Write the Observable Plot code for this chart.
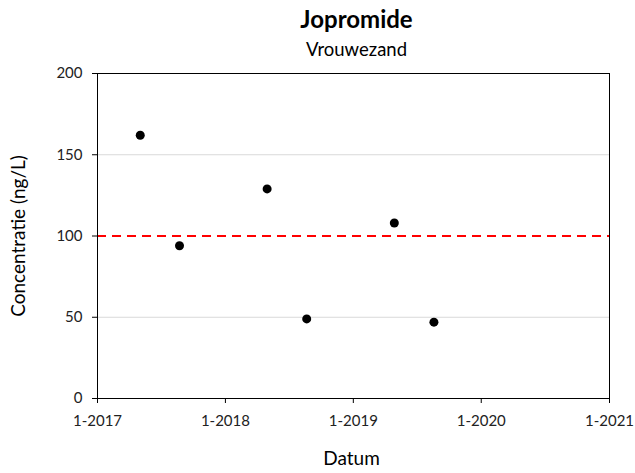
<!DOCTYPE html>
<html>
<head>
<meta charset="utf-8">
<script src="https://cdn.jsdelivr.net/npm/d3@7"></script>
<script src="https://cdn.jsdelivr.net/npm/@observablehq/plot@0.6"></script>
<style>
  html, body { margin: 0; padding: 0; background: #fff; }
  svg { display: block; }
</style>
</head>
<body>
<div id="chart"></div>
<script>
const titleText = ["Jopromide"];
const subtitleText = ["Vrouwezand"];
const xLabel = ["Datum"];
const yLabel = ["Concentratie (ng/L)"];

const sampleDates = ["2017-05-03", "2017-08-23", "2018-04-30", "2018-08-21", "2019-04-28", "2019-08-19"];
const concentrations = [162, 94, 129, 49, 108, 47];

const norm = [100];
const gridValues = [50, 150];
const yTicks = [0, 50, 100, 150, 200];
const xTickDates = ["2017-01-01", "2018-01-01", "2019-01-01", "2020-01-01", "2021-01-01"];

const data = sampleDates.map((d, i) => ({date: new Date(d + "T00:00:00Z"), value: concentrations[i]}));
const xTicks = xTickDates.map(d => new Date(d + "T00:00:00Z"));
const font = "Lato, 'Open Sans', sans-serif";

const chart = Plot.plot({
  width: 635,
  height: 473,
  marginTop: 73,
  marginBottom: 75,
  marginLeft: 97,
  marginRight: 26,
  style: {fontFamily: font, fontSize: "15px", color: "#222", background: "#fff"},
  x: {type: "utc", domain: [xTicks[0], xTicks[xTicks.length - 1]]},
  y: {domain: [0, 200]},
  marks: [
    Plot.ruleY(gridValues, {stroke: "#d9d9d9", strokeWidth: 1}),
    Plot.ruleY(norm, {stroke: "#ff0000", strokeWidth: 2.2, strokeDasharray: "9,6"}),
    Plot.frame({stroke: "#000", strokeWidth: 1}),
    Plot.axisY({ticks: yTicks, tickSize: 5, tickPadding: 10, label: null, fontSize: 15, stroke: "#000"}),
    Plot.axisX({ticks: xTicks, tickSize: 5, tickPadding: 12, label: null, fontSize: 15, stroke: "#000",
      tickFormat: d => `1-${d.getUTCFullYear()}`}),
    Plot.dot(data, {x: "date", y: "value", r: 4.5, fill: "#000", stroke: null}),
    Plot.text(titleText, {text: d => d, frameAnchor: "top", lineAnchor: "middle", dx: 3, dy: -53, fontSize: 24, fontWeight: "bold", fill: "#000"}),
    Plot.text(subtitleText, {text: d => d, frameAnchor: "top", lineAnchor: "middle", dx: 3, dy: -23, fontSize: 18.5, fill: "#000"}),
    Plot.text(xLabel, {text: d => d, frameAnchor: "bottom", lineAnchor: "middle", dx: -2, dy: 60, fontSize: 19, fill: "#000"}),
    Plot.text(yLabel, {text: d => d, frameAnchor: "left", textAnchor: "middle", lineAnchor: "middle", dx: -79, rotate: -90, fontSize: 19, fill: "#000"})
  ]
});
document.getElementById("chart").appendChild(chart);
</script>
</body>
</html>
